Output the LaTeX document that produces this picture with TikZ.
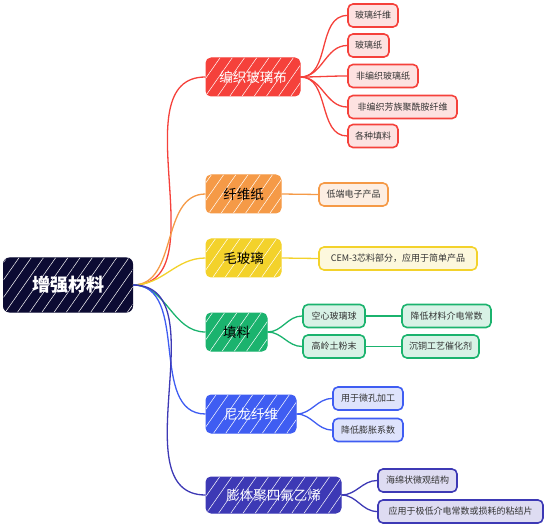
\documentclass[tikz,border=0pt]{standalone}
\usepackage{fontspec}
\setmainfont{Noto Sans CJK SC}
\usetikzlibrary{patterns.meta}
\definecolor{cred}{HTML}{F5413B}
\definecolor{credl}{HTML}{FDE2E1}
\definecolor{corg}{HTML}{F59A47}
\definecolor{corgl}{HTML}{FDEEE2}
\definecolor{cyel}{HTML}{F3D22B}
\definecolor{cyell}{HTML}{FDF8DD}
\definecolor{cgrn}{HTML}{1BB36E}
\definecolor{cgrnl}{HTML}{D8F2E6}
\definecolor{cblu}{HTML}{3F5DF2}
\definecolor{cblul}{HTML}{DEE3FC}
\definecolor{cind}{HTML}{3D39B5}
\definecolor{cindl}{HTML}{DEDCF2}
\definecolor{croot}{HTML}{0C0B33}
\definecolor{ctext}{HTML}{333333}
\begin{document}
\begin{tikzpicture}[x=1pt,y=-1pt,
  hatch/.style={postaction={pattern={Lines[angle=55,distance=10pt,line width=0.5pt]},pattern color=white,fill opacity=0.3}},
  rootbox/.style={draw=croot,fill=croot,rounded corners=6pt,minimum width=129pt,minimum height=54pt,text=white,line width=1pt,font=\fontsize{18}{20}\selectfont\bfseries,hatch},
  branchbox/.style={rounded corners=5pt,minimum height=38pt,line width=1pt,font=\fontsize{13.5}{15}\selectfont,hatch},
  leafbox/.style={rounded corners=5pt,minimum height=23pt,line width=1.6pt,inner xsep=6pt,text=ctext,font=\fontsize{9}{10}\selectfont},
  conn/.style={line width=1.3pt}]
\useasboundingbox (0,0) rectangle (546,529);
\node[rootbox] (root) at (68,285) {增强材料};
% branch 1
\node[branchbox,fill=cred,draw=cred,text=white,minimum width=94pt] (b1) at (253,77) {编织玻璃布};
\node[leafbox,draw=cred,fill=credl,minimum width=50pt] (c11) at (373,15.5) {玻璃纤维};
\node[leafbox,draw=cred,fill=credl,minimum width=41pt] (c12) at (368.5,45.5) {玻璃纸};
\node[leafbox,draw=cred,fill=credl,minimum width=70pt] (c13) at (383,76) {非编织玻璃纸};
\node[leafbox,draw=cred,fill=credl,minimum width=109pt] (c14) at (402.5,107) {非编织芳族聚酰胺纤维};
\node[leafbox,draw=cred,fill=credl,minimum width=50pt] (c15) at (373,136) {各种填料};
% branch 2
\node[branchbox,fill=corg,draw=corg,text=black,minimum width=75pt] (b2) at (243.5,194) {纤维纸};
\node[leafbox,draw=corg,fill=corgl,minimum width=69pt] (c21) at (353.5,194.5) {低端电子产品};
% branch 3
\node[branchbox,fill=cyel,draw=cyel,text=black,minimum width=75pt] (b3) at (243.5,258) {毛玻璃};
\node[leafbox,draw=cyel,fill=cyell,minimum width=158pt] (c31) at (398,258.5) {CEM-3芯料部分，应用于简单产品};
% branch 4
\node[branchbox,fill=cgrn,draw=cgrn,text=black,minimum width=61pt] (b4) at (236.5,332) {填料};
\node[leafbox,draw=cgrn,fill=cgrnl,minimum width=62pt] (c41) at (334,316) {空心玻璃球};
\node[leafbox,draw=cgrn,fill=cgrnl,minimum width=62pt] (c42) at (334,346.5) {高岭土粉末};
\node[leafbox,draw=cgrn,fill=cgrnl,minimum width=89pt] (c43) at (446.5,316) {降低材料介电常数};
\node[leafbox,draw=cgrn,fill=cgrnl,minimum width=77pt] (c44) at (440.5,346.5) {沉铜工艺催化剂};
% branch 5
\node[branchbox,fill=cblu,draw=cblu,text=white,minimum width=90pt] (b5) at (251,414) {尼龙纤维};
\node[leafbox,draw=cblu,fill=cblul,minimum width=70pt] (c51) at (368,398.5) {用于微孔加工};
\node[leafbox,draw=cblu,fill=cblul,minimum width=70pt] (c52) at (368,430) {降低膨胀系数};
% branch 6
\node[branchbox,fill=cind,draw=cind,text=white,minimum width=135pt,minimum height=36pt] (b6) at (273.5,495) {膨体聚四氟乙烯};
\node[leafbox,draw=cind,fill=cindl,minimum width=79pt] (c61) at (417.5,480.5) {海绵状微观结构};
\node[leafbox,draw=cind,fill=cindl,minimum width=165pt] (c62) at (460.5,511.5) {应用于极低介电常数或损耗的粘结片};
% root connectors
\draw[conn,cred] (root.east) to[out=0,in=180] (b1.west);
\draw[conn,corg] (root.east) to[out=0,in=180] (b2.west);
\draw[conn,cyel] (root.east) to[out=0,in=180] (b3.west);
\draw[conn,cgrn] (root.east) to[out=0,in=180] (b4.west);
\draw[conn,cblu] (root.east) to[out=0,in=180] (b5.west);
\draw[conn,cind] (root.east) to[out=0,in=180] (b6.west);
% child connectors
\foreach \c in {c11,c12,c13,c14,c15}
  \draw[conn,cred] (b1.east) to[out=0,in=180] (\c.west);
\draw[conn,corg] (b2.east) -- (c21.west);
\draw[conn,cyel] (b3.east) -- (c31.west);
\draw[conn,cgrn] (b4.east) to[out=0,in=180] (c41.west);
\draw[conn,cgrn] (b4.east) to[out=0,in=180] (c42.west);
\draw[conn,cgrn] (c41.east) -- (c43.west);
\draw[conn,cgrn] (c42.east) -- (c44.west);
\draw[conn,cblu] (b5.east) to[out=0,in=180] (c51.west);
\draw[conn,cblu] (b5.east) to[out=0,in=180] (c52.west);
\draw[conn,cind] (b6.east) to[out=0,in=180] (c61.west);
\draw[conn,cind] (b6.east) to[out=0,in=180] (c62.west);
\end{tikzpicture}
\end{document}
